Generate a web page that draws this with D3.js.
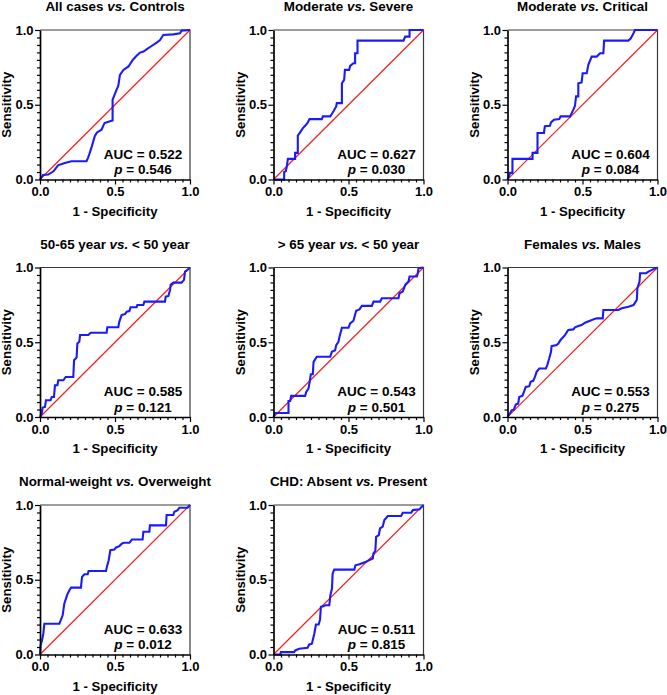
<!DOCTYPE html>
<html><head><meta charset="utf-8">
<script src="https://cdn.jsdelivr.net/npm/d3@7"></script>
<style>
body{margin:0;background:#fff}
text{font-family:"Liberation Sans",Arial,Helvetica,sans-serif;font-weight:bold;fill:#000}
</style>
</head><body>
<svg id="chart" width="667" height="695"></svg>
<script>
// ---------- data ----------
const titleLead = ["All cases ", "Moderate ", "Moderate ", "50-65 year ", "> 65 year ", "Females ", "Normal-weight ", "CHD: Absent "];
const titleTail = [" Controls", " Severe", " Critical", " < 50 year", " < 50 year", " Males", " Overweight", " Present"];
const aucValues = ["0.522", "0.627", "0.604", "0.585", "0.543", "0.553", "0.633", "0.511"];
const pValues = ["0.546", "0.030", "0.084", "0.121", "0.501", "0.275", "0.012", "0.815"];
const tickValues = [0, 0.5, 1];
const tickLabels = ["0.0", "0.5", "1.0"];
const xTitle = "1 - Specificity";
const yTitle = "Sensitivity";

const fpr1 = [0,0.02,0.055,0.09,0.12,0.165,0.21,0.31,0.32,0.33,0.345,0.365,0.38,0.41,0.43,0.467,0.484,0.484,0.493,0.51,0.522,0.533,0.556,0.59,0.618,0.644,0.667,0.69,0.71,0.744,0.778,0.8,0.822,0.889,0.933,0.944,1];
const tpr1 = [0,0.03,0.033,0.055,0.095,0.11,0.122,0.122,0.145,0.173,0.22,0.29,0.315,0.333,0.378,0.39,0.395,0.533,0.556,0.6,0.627,0.7,0.733,0.756,0.8,0.827,0.849,0.856,0.87,0.893,0.916,0.933,0.967,0.971,0.978,0.996,1];

const fpr2 = [0,0.071,0.071,0.082,0.089,0.096,0.144,0.144,0.162,0.162,0.182,0.196,0.211,0.227,0.24,0.322,0.329,0.378,0.389,0.4,0.418,0.422,0.456,0.456,0.471,0.476,0.504,0.511,0.533,0.544,0.544,0.56,0.56,0.867,0.878,0.907,0.907,1];
const tpr2 = [0,0,0.049,0.056,0.089,0.138,0.138,0.178,0.178,0.293,0.322,0.344,0.36,0.378,0.404,0.404,0.422,0.422,0.438,0.456,0.489,0.511,0.511,0.644,0.667,0.733,0.733,0.76,0.778,0.778,0.844,0.844,0.929,0.929,0.956,0.956,1,1];

const fpr3 = [0,0.011,0.016,0.033,0.033,0.167,0.167,0.2,0.2,0.243,0.249,0.283,0.29,0.31,0.345,0.354,0.417,0.428,0.439,0.45,0.457,0.472,0.472,0.494,0.501,0.528,0.539,0.561,0.595,0.617,0.639,0.644,0.806,0.822,0.84,0.85,1];
const tpr3 = [0,0.022,0.044,0.044,0.138,0.138,0.178,0.178,0.311,0.311,0.356,0.36,0.382,0.4,0.404,0.422,0.422,0.444,0.467,0.493,0.556,0.556,0.644,0.649,0.711,0.711,0.767,0.822,0.822,0.844,0.844,0.929,0.929,0.944,0.978,1,1];

const fpr4 = [0,0.011,0.018,0.033,0.04,0.071,0.078,0.093,0.1,0.116,0.122,0.156,0.171,0.222,0.227,0.244,0.249,0.262,0.267,0.322,0.338,0.444,0.449,0.522,0.529,0.544,0.567,0.578,0.596,0.604,0.644,0.649,0.689,0.696,0.833,0.838,0.856,0.867,0.871,0.889,0.944,0.96,0.967,0.978,1];
const tpr4 = [0,0.022,0.063,0.067,0.112,0.112,0.134,0.134,0.212,0.212,0.246,0.246,0.268,0.268,0.38,0.398,0.492,0.503,0.548,0.548,0.564,0.564,0.6,0.6,0.638,0.682,0.689,0.705,0.709,0.734,0.734,0.749,0.749,0.772,0.772,0.805,0.81,0.85,0.884,0.899,0.899,0.917,0.973,0.98,1];

const fpr5 = [0,0.011,0.1,0.1,0.111,0.118,0.211,0.218,0.233,0.24,0.249,0.262,0.267,0.289,0.378,0.389,0.411,0.418,0.433,0.44,0.456,0.5,0.511,0.533,0.551,0.573,0.589,0.656,0.667,0.711,0.722,0.833,0.84,0.862,0.878,0.9,0.907,0.956,0.962,0.967,1];
const tpr5 = [0,0.027,0.027,0.107,0.107,0.141,0.141,0.168,0.19,0.228,0.286,0.286,0.369,0.403,0.403,0.436,0.447,0.481,0.503,0.537,0.597,0.597,0.626,0.644,0.711,0.72,0.743,0.743,0.772,0.772,0.794,0.794,0.828,0.839,0.884,0.906,0.94,0.94,0.962,0.996,1];

const fpr6 = [0,0.016,0.027,0.042,0.056,0.071,0.078,0.1,0.109,0.122,0.145,0.154,0.171,0.183,0.194,0.212,0.256,0.265,0.278,0.29,0.294,0.327,0.339,0.354,0.383,0.405,0.439,0.45,0.472,0.494,0.517,0.55,0.572,0.594,0.635,0.639,0.739,0.762,0.806,0.84,0.862,0.866,0.88,0.884,0.924,0.94,0.973,1];
const tpr6 = [0,0.022,0.045,0.049,0.085,0.089,0.134,0.143,0.166,0.201,0.206,0.235,0.242,0.268,0.302,0.324,0.324,0.347,0.391,0.436,0.474,0.481,0.492,0.515,0.548,0.582,0.586,0.6,0.609,0.615,0.631,0.644,0.653,0.66,0.66,0.716,0.716,0.727,0.738,0.749,0.783,0.861,0.906,0.962,0.962,0.973,0.989,1];

const fpr7 = [0,0.004,0.013,0.022,0.029,0.129,0.14,0.151,0.162,0.173,0.184,0.196,0.207,0.273,0.28,0.296,0.318,0.324,0.44,0.447,0.458,0.469,0.496,0.507,0.529,0.547,0.562,0.596,0.613,0.684,0.689,0.729,0.733,0.84,0.844,0.889,0.896,0.918,0.929,0.984,1];
const tpr7 = [0,0.06,0.094,0.139,0.206,0.206,0.233,0.262,0.34,0.374,0.407,0.43,0.447,0.447,0.519,0.537,0.537,0.559,0.559,0.591,0.631,0.698,0.702,0.716,0.725,0.743,0.747,0.747,0.769,0.769,0.821,0.821,0.864,0.864,0.933,0.933,0.955,0.966,0.982,0.982,1];

const fpr8 = [0,0.045,0.049,0.138,0.145,0.171,0.227,0.238,0.256,0.272,0.283,0.301,0.31,0.316,0.332,0.345,0.372,0.379,0.39,0.394,0.405,0.539,0.546,0.573,0.617,0.639,0.662,0.666,0.679,0.684,0.702,0.71,0.728,0.739,0.762,0.851,0.862,0.918,0.929,0.973,0.984,1];
const tpr8 = [0,0,0.016,0.016,0.027,0.038,0.045,0.067,0.072,0.139,0.201,0.201,0.233,0.318,0.322,0.329,0.329,0.396,0.441,0.541,0.568,0.568,0.597,0.604,0.62,0.631,0.642,0.676,0.694,0.787,0.799,0.843,0.855,0.899,0.926,0.926,0.948,0.948,0.966,0.971,0.984,1];

const fprList = [fpr1, fpr2, fpr3, fpr4, fpr5, fpr6, fpr7, fpr8];
const tprList = [tpr1, tpr2, tpr3, tpr4, tpr5, tpr6, tpr7, tpr8];

// ---------- layout ----------
const colLeft = [40, 273.5, 507.5];
const rowTop = [30, 267.5, 505];
const W = 150, H = 149.5;

const svg = d3.select("#chart");
svg.append("rect").attr("width", 667).attr("height", 695).attr("fill", "#fff");

const x = d3.scaleLinear().domain([0, 1]).range([0, W]);
const y = d3.scaleLinear().domain([0, 1]).range([H, 0]);
const minorTicks = d3.range(1, 20).map(k => k / 20).filter(v => Math.abs(v - 0.5) > 1e-9);
const line = d3.line().x(d => x(d[0])).y(d => y(d[1]));

titleLead.forEach((lead, i) => {
  const col = i % 3, row = Math.floor(i / 3);
  const g = svg.append("g").attr("transform", `translate(${colLeft[col]},${rowTop[row]})`);

  // frame (top & right)
  g.append("path").attr("d", `M0,0H${W}V${H}`).attr("fill", "none")
    .attr("stroke", "#3a3a3a").attr("stroke-width", 1.2);

  // reference diagonal
  g.append("line")
    .attr("x1", x(0)).attr("y1", y(0)).attr("x2", x(1)).attr("y2", y(1))
    .attr("stroke", "#ff1a1a").attr("stroke-width", 1.2);

  // ROC curve
  const pts = fprList[i].map((v, k) => [v, tprList[i][k]]);
  g.append("path").datum(pts).attr("d", line).attr("fill", "none")
    .attr("stroke", "#1a1aff").attr("stroke-width", 2.1).attr("stroke-linejoin", "miter");

  // axes: minor ticks
  const xMinor = g.append("g").attr("transform", `translate(0,${H})`)
    .call(d3.axisBottom(x).tickValues(minorTicks).tickSize(3).tickSizeOuter(0).tickFormat(""));
  xMinor.select(".domain").remove();
  const yMinor = g.append("g")
    .call(d3.axisLeft(y).tickValues(minorTicks).tickSize(3).tickSizeOuter(0).tickFormat(""));
  yMinor.select(".domain").remove();

  // axes: major
  const xAx = g.append("g").attr("transform", `translate(0,${H})`)
    .call(d3.axisBottom(x).tickValues(tickValues).tickFormat((d, k) => tickLabels[k])
      .tickSize(5).tickSizeOuter(0).tickPadding(2.5));
  const yAx = g.append("g")
    .call(d3.axisLeft(y).tickValues(tickValues).tickFormat((d, k) => tickLabels[k])
      .tickSize(5).tickSizeOuter(0).tickPadding(1.5));
  [xAx, yAx, xMinor, yMinor].forEach(a => {
    a.attr("font-family", null).attr("font-size", null);
    a.selectAll("line").attr("stroke", "#000").attr("stroke-width", 1.2);
    a.selectAll(".domain").attr("stroke", "#000").attr("stroke-width", 1.7);
    a.selectAll("text").style("font-size", "13px").attr("fill", "#000");
  });

  // title
  const t = g.append("text").attr("x", W / 2).attr("y", -19)
    .attr("text-anchor", "middle").style("font-size", "13.4px");
  t.append("tspan").text(lead);
  t.append("tspan").style("font-style", "italic").text("vs.");
  t.append("tspan").text(titleTail[i]);

  // axis titles
  g.append("text").attr("x", W / 2).attr("y", H + 36)
    .attr("text-anchor", "middle").style("font-size", "13.2px").text(xTitle);
  g.append("text").attr("transform", `translate(-29,${H / 2}) rotate(-90)`)
    .attr("text-anchor", "middle").style("font-size", "13.2px").text(yTitle);

  // AUC / p
  g.append("text").attr("x", 103).attr("y", H - 21)
    .attr("text-anchor", "middle").style("font-size", "13.5px").text("AUC = " + aucValues[i]);
  const pt = g.append("text").attr("x", 103).attr("y", H - 5.5)
    .attr("text-anchor", "middle").style("font-size", "13.5px");
  pt.append("tspan").style("font-style", "italic").text("p");
  pt.append("tspan").text(" = " + pValues[i]);
});
</script>
</body></html>
